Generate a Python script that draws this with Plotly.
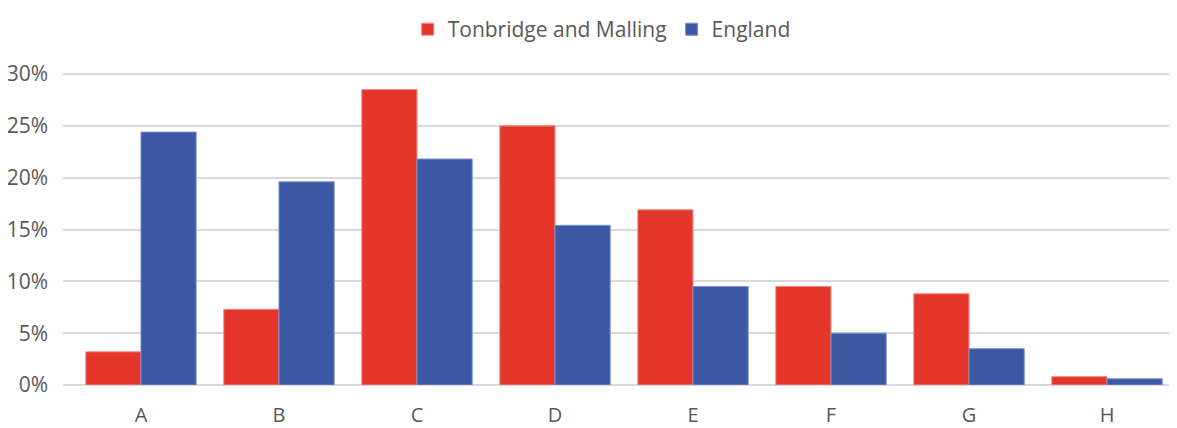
import plotly.graph_objects as go

categories = ["A", "B", "C", "D", "E", "F", "G", "H"]
tonbridge = [3.2, 7.3, 28.5, 25.0, 16.9, 9.5, 8.8, 0.8]
england = [24.4, 19.6, 21.8, 15.4, 9.5, 5.0, 3.5, 0.6]
y_ticks = [0, 5, 10, 15, 20, 25, 30]
y_tick_labels = [f"{v}%" for v in y_ticks]

fig = go.Figure()
fig.add_trace(go.Bar(name="Tonbridge and Malling", x=categories, y=tonbridge,
                     marker=dict(color="#E5352A", line=dict(color="#F08A80", width=1))))
fig.add_trace(go.Bar(name="England", x=categories, y=england,
                     marker=dict(color="#3C58A5", line=dict(color="#7A8FC8", width=1))))

# page body has an 8px default margin, so the figure is offset by 8px
fig.update_layout(
    width=1169, height=420,
    margin=dict(l=55, r=1, t=65, b=43, autoexpand=False),
    paper_bgcolor="white", plot_bgcolor="white",
    barmode="group", bargap=0.2, bargroupgap=0,
    font=dict(family="Open Sans, Noto Sans, sans-serif", size=20, color="#595959"),
    legend=dict(orientation="h", x=0.484, xanchor="center", y=1.205, yanchor="top",
                font=dict(size=21, color="#595959"), itemwidth=30, traceorder="normal"),
    xaxis=dict(range=[-0.565, 7.5], showgrid=False, ticks="",
               tickfont=dict(size=20, color="#595959"), showline=False,
               ticklabelstandoff=16, automargin=False),
    yaxis=dict(range=[0, 30.1], tickvals=y_ticks, ticktext=y_tick_labels,
               showgrid=True, gridcolor="#D9D9D9", gridwidth=2, zeroline=True,
               zerolinecolor="#D9D9D9", zerolinewidth=2, automargin=False,
               tickfont=dict(size=21, color="#595959"), ticklabelstandoff=14),
)
fig.write_html("out.html")
